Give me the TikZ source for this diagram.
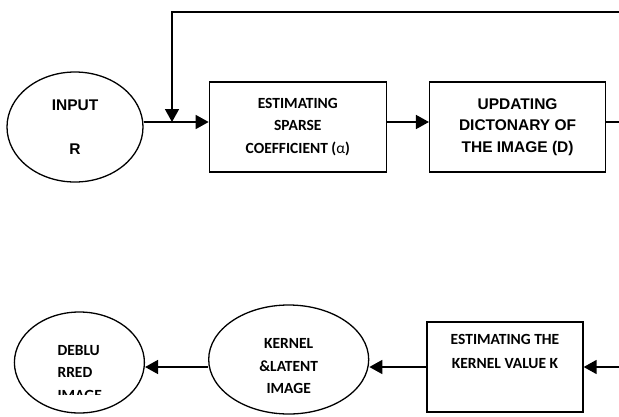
\documentclass[tikz,border=0pt]{standalone}
\usepackage{fontspec}
\setmainfont{Carlito}
\newfontfamily\arialfont{Liberation Sans}
\usetikzlibrary{arrows.meta,shapes.geometric,positioning}
\newcommand{\bigsz}{\fontsize{15.5}{22.5}\selectfont}

\tikzset{
	blk/.style={rectangle, draw, line width=1.3pt, align=center, font=\bigsz\bfseries},
	oval/.style={ellipse, draw, line width=1.3pt, inner sep=0pt},
	flow/.style={-{Triangle[length=13pt,width=14pt]}, line width=1.6pt},
	wire/.style={line width=1.6pt}
}

\begin{document}
\begin{tikzpicture}[x=1pt, y=-1pt]
	\useasboundingbox (0,0) rectangle (619,416);
	
	% top row
	\node[oval, minimum width=136pt, minimum height=110pt, align=center, font=\arialfont\bigsz\bfseries] (in) at (75,127) {INPUT\\[22pt]R};
	\node[blk, minimum width=177pt, minimum height=90pt, right=65pt of in] (sparse) {ESTIMATING\\SPARSE\\COEFFICIENT ({\mdseries α})};
	\node[blk, minimum width=176pt, minimum height=90pt, right=42pt of sparse, font=\arialfont\fontsize{15.5}{21.5}\selectfont\bfseries] (upd) {UPDATING\\DICTONARY OF\\THE IMAGE (D)};
	
	% bottom row
	\node[blk, minimum width=156pt, minimum height=90pt, font=\fontsize{15.5}{24}\selectfont\bfseries] (kval) at (505,367) {ESTIMATING THE\\KERNEL VALUE K\\\strut};
	\node[oval, minimum width=160pt, minimum height=109pt, left=57pt of kval, yshift=7.5pt] (ker) {};
	\node[align=center, font=\bigsz\bfseries] (kertxt) at ([yshift=-7pt]ker.center) {KERNEL\\\&LATENT\\IMAGE};
	\node[oval, minimum width=130pt, minimum height=101pt, left=63pt of ker, yshift=-3pt] (out) {};
	\begin{scope}
		\clip (17,300) rectangle (147,394.5);
		\node[align=left, anchor=west, font=\bigsz\bfseries] (outtxt) at (54,373) {DEBLU\\RRED\\IMAGE};
	\end{scope}
	
	\coordinate (join) at (172,122);
	\coordinate (topl) at (172,12);
	\coordinate (topr) at (619,12);
	\coordinate (rt) at (619,122);
	\coordinate (rb) at (619,367);
	
	\draw[wire] (join -| in.east) -- (join);
	\draw[flow] (join) -- (join -| sparse.west);
	\draw[flow] (join -| sparse.east) -- (join -| upd.west);
	\draw[wire] (join -| upd.east) -- (rt);
	\draw[flow] (topr) -- (topl) -- (join);
	
	\draw[flow] (rb) -- (kval.east);
	\draw[flow] (kval.west) -- (ker.east |- kval.west);
	\draw[flow] (ker.west |- kval.west) -- (out.east |- kval.west);
\end{tikzpicture}
\end{document}
